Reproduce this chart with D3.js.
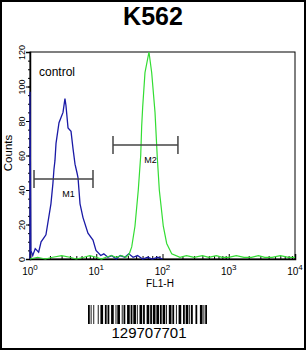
<!DOCTYPE html>
<html>
<head>
<meta charset="utf-8">
<script src="https://cdn.jsdelivr.net/npm/d3@7"></script>
<style>
  body { margin: 0; background: #fff; }
  svg { display: block; font-family: Arial, "Liberation Sans", sans-serif; }
</style>
</head>
<body>
<div id="chart"></div>
<script>
// histogram values (FL1-H channel value, counts)
var controlX = [1, 1, 1.03, 1.1, 1.2, 1.35, 1.47, 1.6, 1.74, 2.07, 2.22, 2.30, 2.38, 2.47, 2.74, 2.94, 3.15, 3.37, 3.49, 3.75, 4.16, 4.46, 4.78, 5.12, 5.31, 5.69, 6.31, 7.50, 8.93, 9.91, 11.7, 13, 15, 17, 20, 23, 27, 31, 36, 42, 50, 60, 70, 85, 100];
var controlY = [0, 97, 5, 2, 6, 4, 10, 12, 14, 32, 44, 52, 57, 67, 79, 82, 85, 93, 89, 76, 74, 64, 55, 50, 47, 32, 24, 15, 11, 5, 2, 3, 1, 2, 0, 2, 1, 3, 1, 2, 0, 1, 0, 1, 0];

var sampleX = [1, 1.3, 1.7, 2.2, 3, 4, 5, 6.5, 8, 10, 12, 14, 17, 20, 24, 28, 31.5, 34.3, 38.4, 43.1, 46.9, 48.5, 50.2, 54.4, 62.5, 68.7, 77.1, 83.4, 89.5, 102.8, 115.7, 137.7, 183.7, 230, 300, 400, 500, 650, 800, 1000, 1300, 1700, 2200, 2800, 3500, 4500, 6000, 8000, 10000];
var sampleY = [0, 1, 0, 1, 2, 1, 0, 1, 2, 1, 0, 1, 2, 1, 2, 1, 3, 7, 19, 40, 60, 77, 88, 108, 120, 108, 85, 59, 40, 19, 9, 3, 1, 2, 1, 2, 1, 2, 1, 1, 2, 1, 1, 2, 1, 1, 2, 1, 1];

// marker gates: name, low, high, height (counts)
var gateNames = ["M1", "M2"];
var gateLow = [1.15, 17.9];
var gateHigh = [8.93, 171];
var gateLevel = [46.4, 66.1];

var yTicks = [0, 20, 40, 60, 80, 100, 120];
var xTicks = [1, 10, 100, 1000, 10000];
var xTickExp = ["0", "1", "2", "3", "4"];

// barcode bar/space widths in modules (Code 128 style)
var barcode = [2,1,1,2,1,4, 1,2,3,2,2,1, 2,2,3,2,1,1, 3,2,1,1,2,2, 3,1,2,1,3,1, 1,2,3,1,2,2,
               3,1,2,1,3,1, 3,1,2,1,3,1, 1,2,3,1,2,2, 1,2,3,2,2,1, 3,1,1,1,2,3, 2,3,3,1,1,1,2];
var barcodeText = "129707701";

var W = 306, H = 350;
var svg = d3.select("#chart").append("svg").attr("width", W).attr("height", H);

svg.append("rect").attr("x", 1).attr("y", 1).attr("width", W - 2).attr("height", H - 2)
   .attr("fill", "#fff").attr("stroke", "#000").attr("stroke-width", 2);

var x = d3.scaleLog().domain([1, 10000]).range([30, 295]);
var y = d3.scaleLinear().domain([0, 120]).range([259, 52]);

// title
svg.append("text").attr("x", 153).attr("y", 25).attr("text-anchor", "middle")
   .attr("font-size", 25).attr("font-weight", "bold").text("K562");

// plot frame
svg.append("rect").attr("x", 30).attr("y", 52).attr("width", 265).attr("height", 207)
   .attr("fill", "none").attr("stroke", "#000").attr("stroke-width", 1);

// y axis - minor then major
svg.append("g").attr("transform", "translate(30,0)")
   .call(d3.axisLeft(y).tickValues(d3.range(0, 121, 5)).tickSize(2).tickFormat(""))
   .call(function(g) { g.select(".domain").remove(); });

var yAxis = svg.append("g").attr("transform", "translate(30,0)")
   .call(d3.axisLeft(y).tickValues(yTicks).tickSize(4));
yAxis.select(".domain").attr("stroke-width", 1.5);
yAxis.selectAll("text")
   .attr("x", 0).attr("dy", 0).attr("text-anchor", "middle")
   .attr("transform", "translate(-5,0) rotate(-90)")
   .attr("font-size", 9).attr("fill", "#000");

svg.append("text").attr("transform", "translate(12,153) rotate(-90)")
   .attr("text-anchor", "middle").attr("font-size", 11.5).text("Counts");

// x axis - minor ticks inside, major ticks inside
var minor = [];
for (var d = 1; d < 10000; d *= 10) {
  for (var k = 2; k < 10; k++) minor.push(d * k);
}
svg.append("g").attr("transform", "translate(0,259)")
   .call(d3.axisBottom(x).tickValues(minor).tickSize(-3).tickFormat(""))
   .call(function(g) { g.select(".domain").remove(); });

var xAxis = svg.append("g").attr("transform", "translate(0,259)")
   .call(d3.axisBottom(x).tickValues(xTicks).tickSize(-5).tickFormat(""));
xAxis.select(".domain").attr("stroke-width", 1.5);

var xl = svg.append("g").selectAll("text").data(xTicks).enter().append("text")
   .attr("x", function(d) { return x(d); })
   .attr("y", 275).attr("text-anchor", "middle").attr("font-size", 10);
xl.append("tspan").text("10");
xl.append("tspan").attr("dy", -5).attr("font-size", 8)
  .text(function(d, i) { return xTickExp[i]; });

svg.append("text").attr("x", 160).attr("y", 287).attr("text-anchor", "middle")
   .attr("font-size", 10).text("FL1-H");

// histograms drawn over the axes
var line = d3.line()
    .x(function(d) { return x(d[0]); })
    .y(function(d) { return y(d[1]); });

svg.append("path")
   .datum(d3.zip(controlX, controlY))
   .attr("d", line).attr("fill", "none")
   .attr("stroke", "#1a1aa6").attr("stroke-width", 1.3);

svg.append("path")
   .datum(d3.zip(sampleX, sampleY))
   .attr("d", line).attr("fill", "none")
   .attr("stroke", "#33dd33").attr("stroke-width", 1.2);

svg.append("text").attr("x", 39).attr("y", 76).attr("font-size", 12).text("control");

// gates
var gates = svg.append("g").selectAll("g").data(gateNames).enter().append("g")
   .attr("stroke", "#444").attr("stroke-width", 1.5);
gates.append("line")
   .attr("x1", function(d, i) { return x(gateLow[i]); })
   .attr("x2", function(d, i) { return x(gateHigh[i]); })
   .attr("y1", function(d, i) { return y(gateLevel[i]); })
   .attr("y2", function(d, i) { return y(gateLevel[i]); });
gates.append("line")
   .attr("x1", function(d, i) { return x(gateLow[i]); })
   .attr("x2", function(d, i) { return x(gateLow[i]); })
   .attr("y1", function(d, i) { return y(gateLevel[i]) - 9; })
   .attr("y2", function(d, i) { return y(gateLevel[i]) + 9; });
gates.append("line")
   .attr("x1", function(d, i) { return x(gateHigh[i]); })
   .attr("x2", function(d, i) { return x(gateHigh[i]); })
   .attr("y1", function(d, i) { return y(gateLevel[i]) - 9; })
   .attr("y2", function(d, i) { return y(gateLevel[i]) + 9; });
gates.append("text")
   .attr("x", function(d, i) { return (x(gateLow[i]) + x(gateHigh[i])) / 2 + 5; })
   .attr("y", function(d, i) { return y(gateLevel[i]) + 18; })
   .attr("text-anchor", "middle").attr("font-size", 9)
   .attr("stroke", "none").attr("fill", "#000").text(function(d) { return d; });

// barcode
var total = d3.sum(barcode);
var bx = d3.scaleLinear().domain([0, total]).range([88, 207]);
var pos = 0, bars = [];
barcode.forEach(function(w, i) {
  if (i % 2 === 0) bars.push([pos, w]);
  pos += w;
});
svg.append("g").selectAll("rect").data(bars).enter().append("rect")
   .attr("x", function(d) { return bx(d[0]); })
   .attr("width", function(d) { return bx(d[0] + d[1]) - bx(d[0]); })
   .attr("y", 305).attr("height", 19).attr("fill", "#000");

svg.append("text").attr("x", 149).attr("y", 338).attr("text-anchor", "middle")
   .attr("font-size", 15).text(barcodeText);
</script>
</body>
</html>
